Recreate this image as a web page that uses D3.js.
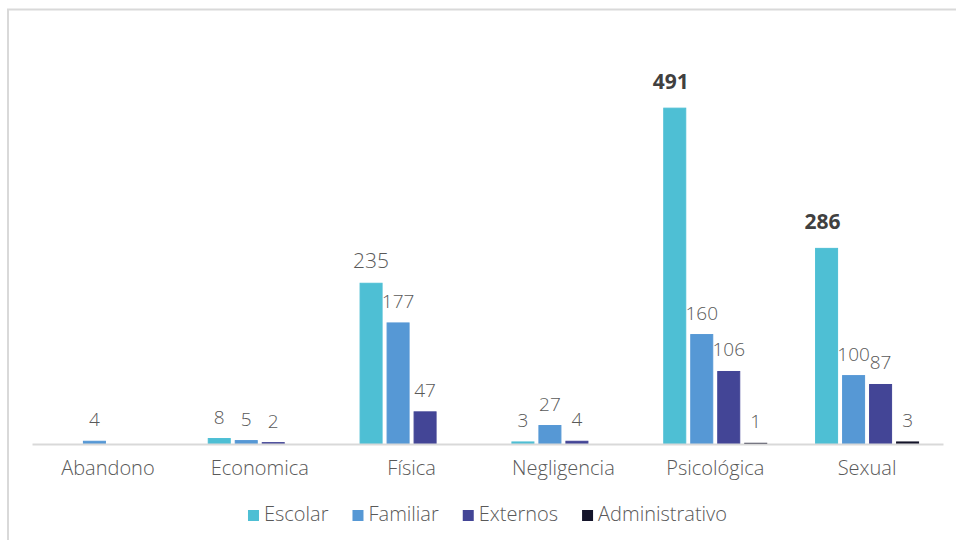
<!DOCTYPE html>
<html>
<head>
<meta charset="utf-8">
<script src="https://cdn.jsdelivr.net/npm/d3@7"></script>
<style>
  html, body { margin: 0; padding: 0; background: #fff; }
  svg { display: block; font-family: "Open Sans", Lato, sans-serif; }
</style>
</head>
<body>
<div id="chart"></div>
<script>
// categories and series
const categories = ['Abandono', 'Economica', 'Física', 'Negligencia', 'Psicológica', 'Sexual'];
const seriesNames = ['Escolar', 'Familiar', 'Externos', 'Administrativo'];
const escolar = [null, 8, 235, 3, 491, 286];
const familiar = [4, 5, 177, 27, 160, 100];
const externos = [null, 2, 47, 4, 106, 87];
const administrativo = [null, null, null, null, 1, 3];
const yMax = 500;

const colors = ['#4ebfd4', '#5698d5', '#434596', '#14142a'];
const seriesValues = [escolar, familiar, externos, administrativo];

const width = 956;
const height = 540;
const margin = { top: 102, right: 13, bottom: 96, left: 32 };
const fontFamily = '"Open Sans", Lato, sans-serif';

const svg = d3.select('#chart')
  .append('svg')
  .attr('width', width)
  .attr('height', height);

// frame border (only top and left visible)
svg.append('rect')
  .attr('x', 8)
  .attr('y', 9.5)
  .attr('width', width + 20)
  .attr('height', height + 20)
  .style('fill', 'none')
  .style('stroke', '#d9d9d9')
  .style('stroke-width', 2);

const x0 = d3.scaleBand()
  .domain(categories)
  .range([margin.left, width - margin.right]);

const groupWidth = 103;
const x1 = d3.scaleBand()
  .domain(seriesNames)
  .range([0, groupWidth])
  .paddingInner(0.185);

const y = d3.scaleLinear()
  .domain([0, yMax])
  .range([height - margin.bottom, margin.top]);

const rows = [];
categories.forEach((c, i) => {
  seriesNames.forEach((s, j) => {
    const v = seriesValues[j][i];
    if (v != null) rows.push({ category: c, series: s, si: j, value: v });
  });
});

const bx = (d) => x0(d.category) + (x0.bandwidth() - groupWidth) / 2 + x1(d.series);

const plot = svg.append('g').attr('class', 'plot');

plot.selectAll('rect.bar')
  .data(rows)
  .join('rect')
  .attr('class', 'bar')
  .attr('x', bx)
  .attr('width', x1.bandwidth())
  .attr('y', (d) => y(d.value))
  .attr('height', (d) => y(0) - y(d.value))
  .style('fill', (d) => colors[d.si])
  .style('stroke', (d) => colors[d.si])
  .style('stroke-width', 1);

// baseline axis
const xAxis = d3.axisBottom(x0).tickSize(0).tickPadding(17);
const axisG = plot.append('g')
  .attr('transform', `translate(0,${y(0)})`)
  .call(xAxis);
axisG.select('.domain')
  .style('stroke', '#d9d9d9')
  .style('stroke-width', 2);
axisG.selectAll('text')
  .attr('dy', '0.68em')
  .style('font-size', '20px')
  .style('font-weight', 300)
  .style('fill', '#595959')
  .style('font-family', fontFamily);

// value labels; Escolar labels are larger, the top two bold
plot.selectAll('text.value')
  .data(rows)
  .join('text')
  .attr('class', 'value')
  .attr('x', (d) => bx(d) + x1.bandwidth() / 2 - (d.si === 0 && d.value > 250 ? 4 : 0))
  .attr('y', (d) => y(d.value) - (d.si === 0 && d.value > 250 ? 19 : 15))
  .attr('text-anchor', 'middle')
  .style('font-size', (d) => (d.si === 0 && d.value > 100 ? '21px' : '19px'))
  .style('font-weight', (d) => (d.si === 0 && d.value > 250 ? 700 : 300))
  .style('fill', (d) => (d.si === 0 && d.value > 250 ? '#404040' : '#595959'))
  .text((d) => d.value);

// legend
const legend = svg.append('g').attr('class', 'legend');
const items = legend.selectAll('g')
  .data(seriesNames)
  .join('g');
items.append('rect')
  .attr('width', 11)
  .attr('height', 11)
  .attr('y', -11)
  .style('fill', (d, i) => colors[i]);
items.append('text')
  .attr('x', 16)
  .style('font-size', '20px')
  .style('font-weight', 300)
  .style('fill', '#595959')
  .text((d) => d);

let offset = 0;
items.each(function() {
  const w = this.querySelector('text').getComputedTextLength() + 16;
  d3.select(this).attr('transform', `translate(${offset},0)`);
  offset += w + 24;
});
const legendWidth = offset - 24;
const cx = (margin.left + width - margin.right) / 2;
legend.attr('transform', `translate(${cx - legendWidth / 2},521)`);
</script>
</body>
</html>
